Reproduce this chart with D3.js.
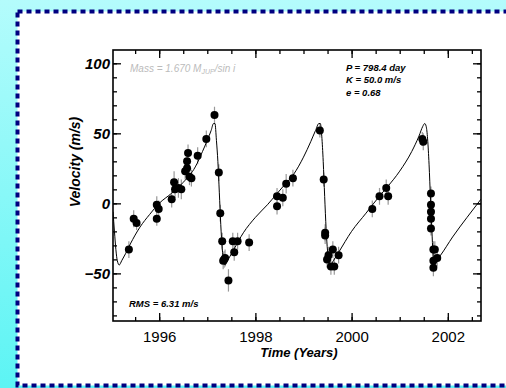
<!DOCTYPE html>
<html>
<head>
<meta charset="utf-8">
<script src="https://cdn.jsdelivr.net/npm/d3@7"></script>
<style>
  html, body { margin: 0; padding: 0; overflow: hidden; }
  svg { display: block; font-family: "Liberation Sans", Arial, sans-serif; }
</style>
</head>
<body>
<svg width="506" height="388"></svg>
<script>
// observed radial velocities (year, m/s, error)
var obsYear = [1995.37, 1995.47, 1995.53, 1995.95, 1995.99, 1995.95, 1996.26, 1996.31, 1996.33, 1996.40,
  1996.46, 1996.60, 1996.58, 1996.58, 1996.54, 1996.63, 1996.67, 1996.80, 1996.98, 1997.15,
  1997.24, 1997.27, 1997.31, 1997.33, 1997.35, 1997.37, 1997.44, 1997.53, 1997.56, 1997.63,
  1997.87, 1998.45, 1998.45, 1998.57, 1998.64, 1998.78, 1999.34, 1999.42, 1999.45, 1999.45,
  1999.49, 1999.52, 1999.57, 1999.61, 1999.64, 1999.73, 2000.43, 2000.58, 2000.72, 2000.76,
  2001.47, 2001.49, 2001.65, 2001.65, 2001.65, 2001.65, 2001.65, 2001.70, 2001.73, 2001.70,
  2001.78, 2001.70];
var obsVel = [-33, -11, -14, -1, -4, -11, 3, 15, 10, 11,
  10, 36, 30, 25, 23, 19, 18, 34, 46, 63,
  22, -7, -27, -41, -40, -39, -55, -27, -35, -27,
  -28, 5, -2, 4, 14, 18, 52, 17, -21, -23,
  -40, -37, -45, -33, -45, -37, -4, 5, 11, 5,
  46, 44, 7, -1, -6, -11, -18, -33, -33, -41,
  -39, -46];
var obsErr = [6, 6, 5, 6, 6, 5, 6, 8, 6, 7,
  7, 6, 6, 6, 6, 6, 6, 6, 6, 6,
  6, 6, 6, 6, 6, 6, 8, 6, 6, 6,
  6, 6, 6, 6, 7, 6, 5, 5, 6, 6,
  6, 6, 6, 6, 6, 6, 6, 6, 6, 6,
  5, 6, 5, 5, 5, 5, 5, 6, 6, 6,
  6, 6];

// orbit fit
var fitYear = [1995.04, 1995.07, 1995.10, 1995.13, 1995.17, 1995.22, 1995.30, 1995.40, 1995.60, 1995.80,
  1996.00, 1996.25, 1996.50, 1996.75, 1996.90, 1997.00, 1997.08, 1997.13, 1997.16, 1997.19,
  1997.22, 1997.25, 1997.28, 1997.31, 1997.34, 1997.37, 1997.42, 1997.55, 1997.75, 1998.00,
  1998.25, 1998.45, 1998.60, 1998.80, 1999.00, 1999.15, 1999.25, 1999.32, 1999.35, 1999.38,
  1999.41, 1999.44, 1999.47, 1999.50, 1999.53, 1999.56, 1999.62, 1999.73, 2000.00, 2000.30,
  2000.60, 2000.75, 2001.00, 2001.25, 2001.40, 2001.48, 2001.52, 2001.55, 2001.58, 2001.61,
  2001.64, 2001.67, 2001.69, 2001.72, 2001.76, 2001.85, 2002.10, 2002.40, 2002.69];
var fitVel = [-6, -20, -33, -41, -44, -41, -36, -29, -17, -8,
  0, 7, 15, 26, 37, 45, 52, 57, 57, 45,
  30, 8, -15, -32, -41, -44, -41, -33, -21, -10,
  -1, 7, 13, 21, 33, 44, 52, 57, 57, 48,
  30, 5, -18, -34, -42, -44, -41, -35, -20, -7,
  6, 12, 23, 37, 48, 55, 57, 55, 46, 28,
  3, -20, -35, -44, -41, -37, -24, -10, 3];

var xMajor = [1996, 1998, 2000, 2002];
var xMinor = d3.range(1995.5, 2002.6, 0.5);
var yMajor = [-50, 0, 50, 100];
var yMinor = d3.range(-80, 110, 10);

var svg = d3.select('svg');

var bg = svg.append('defs').append('linearGradient')
  .attr('id', 'bg').attr('x1', 0).attr('y1', 0).attr('x2', 0).attr('y2', 1);
bg.append('stop').attr('offset', '0%').attr('stop-color', '#b4fcfc');
bg.append('stop').attr('offset', '100%').attr('stop-color', '#5cf4f4');

svg.append('rect').attr('width', 506).attr('height', 388).attr('fill', 'url(#bg)');
svg.append('rect')
  .attr('x', 17.5).attr('y', 11.5).attr('width', 520).attr('height', 374)
  .attr('fill', '#fff')
  .attr('stroke', '#000080').attr('stroke-width', 4)
  .attr('stroke-dasharray', '5,4');

var L = 113, R = 481, T = 50, B = 321;
var x = d3.scaleLinear().domain([1995.04, 2002.69]).range([L, R]);
var y = d3.scaleLinear().domain([-84, 109.5]).range([B, T]);

svg.append('clipPath').attr('id', 'clip')
  .append('rect').attr('x', L).attr('y', T).attr('width', R - L).attr('height', B - T);

function ax(gen, tr, vals, size, labels) {
  var g = svg.append('g').attr('transform', tr)
    .call(gen.tickValues(vals).tickSize(size).tickPadding(labels ? 3 : 0)
      .tickFormat(labels ? d3.format('d') : ''));
  g.select('.domain').remove();
  g.selectAll('line').attr('stroke', '#000').attr('stroke-width', 1.3);
  return g;
}

ax(d3.axisBottom(x), 'translate(0,' + B + ')', xMinor, -4, false);
ax(d3.axisTop(x), 'translate(0,' + T + ')', xMinor, -4, false);
ax(d3.axisTop(x), 'translate(0,' + T + ')', xMajor, -8, false);
var xa = ax(d3.axisBottom(x), 'translate(0,' + B + ')', xMajor, -8, true);
xa.selectAll('text').attr('font-size', 15).attr('fill', '#000')
  .attr('y', 10);

ax(d3.axisLeft(y), 'translate(' + L + ',0)', yMinor, -4, false);
ax(d3.axisRight(y), 'translate(' + R + ',0)', yMinor, -4, false);
ax(d3.axisRight(y), 'translate(' + R + ',0)', yMajor, -8, false);
var ya = ax(d3.axisLeft(y), 'translate(' + L + ',0)', yMajor, -8, true);
ya.selectAll('text').attr('font-size', 15).attr('font-weight', 'bold')
  .attr('font-style', 'italic').attr('fill', '#000');

svg.append('rect').attr('x', L).attr('y', T).attr('width', R - L).attr('height', B - T)
  .attr('fill', 'none').attr('stroke', '#000').attr('stroke-width', 1.6);

var plot = svg.append('g').attr('clip-path', 'url(#clip)');

var obs = obsYear.map(function(t, i) { return [t, obsVel[i], obsErr[i]]; });

plot.selectAll('line.err').data(obs).enter().append('line')
  .attr('class', 'err')
  .attr('x1', function(d) { return x(d[0]); })
  .attr('x2', function(d) { return x(d[0]); })
  .attr('y1', function(d) { return y(d[1] - d[2]); })
  .attr('y2', function(d) { return y(d[1] + d[2]); })
  .attr('stroke', '#999').attr('stroke-width', 1.2);

var line = d3.line()
  .x(function(d) { return x(d[0]); })
  .y(function(d) { return y(d[1]); })
  .curve(d3.curveMonotoneX);
plot.append('path')
  .datum(fitYear.map(function(t, i) { return [t, fitVel[i]]; }))
  .attr('d', line).attr('fill', 'none').attr('stroke', '#000').attr('stroke-width', 1);

plot.selectAll('circle').data(obs).enter().append('circle')
  .attr('cx', function(d) { return x(d[0]); })
  .attr('cy', function(d) { return y(d[1]); })
  .attr('r', 4).attr('fill', '#000');

function label(txt, px, py, size, extra) {
  var t = svg.append('text').attr('x', px).attr('y', py).attr('font-size', size)
    .attr('font-weight', 'bold').attr('font-style', 'italic').attr('fill', '#000').text(txt);
  if (extra) extra(t);
  return t;
}

label('Time  (Years)', (L + R) / 2 + 2, 357, 13, function(t) { t.attr('text-anchor', 'middle'); });
label('Velocity  (m/s)', 0, 0, 14, function(t) {
  t.attr('text-anchor', 'middle').attr('transform', 'translate(80,162) rotate(-90)');
});

label('P = 798.4 day', 346, 71, 9.5);
label('K = 50.0 m/s', 346, 83, 9.5);
label('e = 0.68', 346, 96, 9.5);
label('RMS = 6.31 m/s', 129, 307, 9.5);

var mass = svg.append('text').attr('x', 130).attr('y', 72).attr('font-size', 10)
  .attr('font-style', 'italic').attr('fill', '#bbb');
mass.append('tspan').text('Mass = 1.670 M');
mass.append('tspan').attr('font-size', 7).attr('dy', 2).text('JUP');
mass.append('tspan').attr('dy', -2).text('/sin i');
</script>
</body>
</html>
